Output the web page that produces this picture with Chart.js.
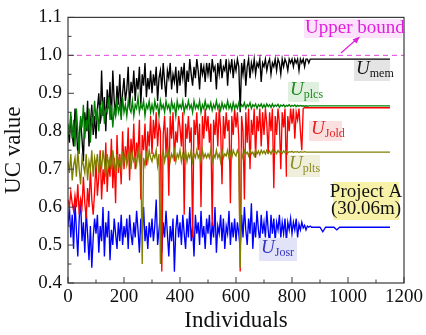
<!DOCTYPE html>
<html><head><meta charset="utf-8">
<script src="https://cdn.jsdelivr.net/npm/chart.js@4/dist/chart.umd.min.js"></script>
<style>html,body{margin:0;padding:0;background:#fff;}canvas{display:block;}</style>
</head><body>
<canvas id="c" width="426" height="335"></canvas>
<script>
// Individuals (x): every 5th individual up to 880, then the converged tail
const tailIndividuals = [900,910,920,950,960,970,1050,1150];
const individuals = Array.from({length:177},(_,i)=>i*5).concat(tailIndividuals);

const uMem = [
 0.80,0.77,0.84,0.79,0.76,0.86,0.81,0.74,0.79,0.83,0.78,0.72,0.85,0.80,0.88,0.76,0.82,0.87,0.79,0.84,
 0.78,0.86,0.90,0.82,0.96,0.84,0.89,0.80,0.91,0.86,0.93,0.83,0.96,0.88,0.84,0.92,0.87,0.95,0.85,0.90,
 0.94,0.88,0.91,0.97,0.86,0.93,0.90,0.96,0.88,0.94,0.91,0.97,0.87,0.95,0.92,0.98,0.89,0.94,0.91,0.96,
 0.90,0.95,0.92,0.97,0.88,0.94,0.96,0.91,0.98,0.93,0.89,0.96,0.94,0.98,0.91,0.95,0.93,0.97,0.90,0.96,
 0.92,0.97,0.94,0.98,0.89,0.96,0.93,0.99,0.95,0.92,0.97,0.94,0.99,0.96,0.91,0.98,0.95,0.97,0.93,0.98,
 0.95,0.98,0.93,0.99,0.96,0.97,0.91,0.98,0.95,0.99,0.94,0.97,0.96,0.99,0.92,0.98,0.96,0.99,0.94,0.98,
 0.96,0.99,0.97,0.85,0.98,0.95,0.99,0.92,0.97,0.99,0.94,0.98,0.96,0.99,0.95,0.98,0.97,0.99,0.93,0.98,
 0.97,0.99,0.96,0.98,0.99,0.95,0.98,0.97,0.99,0.96,0.99,0.98,0.95,0.99,0.97,0.99,0.98,0.96,0.99,0.98,
 0.99,0.97,0.99,0.98,0.99,0.96,0.99,0.98,0.99,0.97,0.99,0.99,0.98,0.99,0.99,0.99,
 0.99,
 0.99,0.99,0.99,0.99,0.99,0.99,0.99,0.99];

const uPlcs = [
 0.82,0.79,0.85,0.78,0.83,0.76,0.86,0.80,0.74,0.84,0.81,0.87,0.78,0.83,0.80,0.86,0.77,0.84,0.82,0.88,
 0.83,0.86,0.80,0.87,0.84,0.88,0.82,0.86,0.85,0.89,0.83,0.87,0.81,0.86,0.84,0.88,0.85,0.87,0.83,0.89,
 0.85,0.87,0.84,0.88,0.86,0.85,0.88,0.84,0.87,0.86,0.89,0.85,0.87,0.86,0.88,0.84,0.87,0.86,0.88,0.85,
 0.87,0.85,0.88,0.86,0.87,0.84,0.88,0.86,0.87,0.85,0.88,0.86,0.87,0.85,0.88,0.86,0.87,0.84,0.88,0.86,
 0.87,0.86,0.88,0.85,0.87,0.86,0.88,0.86,0.87,0.85,0.88,0.86,0.87,0.86,0.88,0.85,0.87,0.86,0.88,0.86,
 0.87,0.86,0.875,0.855,0.87,0.86,0.88,0.86,0.87,0.855,0.875,0.86,0.87,0.86,0.88,0.86,0.87,0.855,0.875,0.86,
 0.87,0.86,0.875,0.86,0.87,0.865,0.875,0.86,0.87,0.865,0.875,0.86,0.87,0.865,0.872,0.86,0.87,0.865,0.872,0.862,
 0.87,0.862,0.872,0.865,0.87,0.863,0.872,0.864,0.869,0.866,0.871,0.863,0.869,0.866,0.87,0.864,0.868,0.866,0.87,0.865,
 0.868,0.866,0.869,0.865,0.868,0.866,0.868,0.866,0.867,0.866,0.867,0.866,0.867,0.867,0.867,0.867,
 0.867,
 0.867,0.867,0.867,0.867,0.867,0.867,0.867,0.867];

const uJold = [
 0.62,0.60,0.64,0.61,0.59,0.63,0.60,0.66,0.58,0.62,0.60,0.68,0.61,0.57,0.65,0.60,0.70,0.62,0.58,0.64,
 0.72,0.63,0.68,0.75,0.62,0.70,0.66,0.77,0.64,0.72,0.68,0.78,0.65,0.73,0.61,0.79,0.69,0.74,0.66,0.80,
 0.70,0.76,0.72,0.81,0.67,0.78,0.73,0.82,0.70,0.77,0.74,0.83,0.62,0.79,0.75,0.82,0.71,0.80,0.76,0.84,
 0.74,0.83,0.78,0.85,0.76,0.82,0.80,0.43,0.79,0.84,0.74,0.81,0.63,0.84,0.78,0.85,0.72,0.80,0.77,0.84,
 0.81,0.76,0.85,0.58,0.82,0.78,0.84,0.77,0.81,0.52,0.83,0.79,0.85,0.75,0.82,0.60,0.84,0.78,0.86,0.80,
 0.84,0.77,0.82,0.55,0.83,0.79,0.85,0.76,0.86,0.81,0.66,0.84,0.78,0.85,0.80,0.83,0.61,0.84,0.79,0.86,
 0.81,0.85,0.78,0.43,0.84,0.80,0.62,0.85,0.77,0.86,0.70,0.83,0.79,0.86,0.73,0.84,0.80,0.86,0.76,0.85,
 0.79,0.86,0.82,0.74,0.85,0.80,0.86,0.65,0.84,0.79,0.86,0.82,0.70,0.85,0.81,0.86,0.68,0.84,0.80,0.86,
 0.82,0.86,0.78,0.85,0.83,0.86,0.80,0.75,0.86,0.862,0.862,0.862,0.862,0.862,0.862,0.862,
 0.862,
 0.862,0.862,0.862,0.862,0.862,0.862,0.862,0.862];

const uPlts = [
 0.72,0.69,0.74,0.67,0.71,0.73,0.68,0.75,0.70,0.66,0.73,0.71,0.69,0.74,0.67,0.72,0.70,0.75,0.68,0.73,
 0.71,0.74,0.69,0.73,0.70,0.75,0.72,0.68,0.74,0.71,0.73,0.70,0.75,0.72,0.69,0.74,0.71,0.73,0.70,0.74,
 0.72,0.74,0.71,0.73,0.75,0.70,0.74,0.72,0.73,0.71,0.75,0.72,0.74,0.45,0.73,0.71,0.74,0.72,0.75,0.73,
 0.72,0.74,0.73,0.75,0.71,0.74,0.45,0.73,0.75,0.72,0.74,0.73,0.75,0.72,0.74,0.73,0.75,0.72,0.74,0.73,
 0.75,0.72,0.74,0.73,0.75,0.72,0.74,0.73,0.75,0.72,0.74,0.73,0.75,0.73,0.74,0.72,0.75,0.73,0.74,0.73,
 0.74,0.73,0.75,0.72,0.74,0.73,0.75,0.73,0.74,0.72,0.75,0.73,0.74,0.735,0.75,0.73,0.745,0.73,0.75,0.74,
 0.735,0.75,0.74,0.44,0.745,0.73,0.75,0.74,0.745,0.735,0.75,0.74,0.745,0.735,0.75,0.74,0.748,0.738,0.75,0.742,
 0.748,0.74,0.75,0.742,0.748,0.74,0.75,0.743,0.748,0.741,0.749,0.744,0.747,0.742,0.748,0.744,0.747,0.743,0.746,0.745,
 0.747,0.744,0.746,0.745,0.746,0.744,0.746,0.745,0.745,0.746,0.745,0.745,0.745,0.745,0.745,0.745,
 0.745,
 0.745,0.745,0.745,0.745,0.745,0.745,0.745,0.745];

const uJosr = [
 0.55,0.60,0.52,0.58,0.49,0.61,0.54,0.47,0.57,0.62,0.51,0.56,0.48,0.59,0.53,0.46,0.55,0.44,0.52,0.57,
 0.53,0.58,0.48,0.55,0.51,0.60,0.47,0.56,0.52,0.59,0.46,0.54,0.50,0.57,0.53,0.49,0.56,0.51,0.58,0.50,
 0.55,0.52,0.57,0.49,0.58,0.53,0.50,0.56,0.52,0.59,0.54,0.48,0.57,0.53,0.60,0.51,0.55,0.49,0.56,0.52,
 0.57,0.51,0.55,0.62,0.50,0.54,0.58,0.48,0.56,0.52,0.59,0.53,0.47,0.55,0.51,0.57,0.43,0.54,0.58,0.52,
 0.56,0.50,0.58,0.53,0.49,0.57,0.52,0.60,0.51,0.55,0.47,0.58,0.53,0.56,0.50,0.59,0.52,0.55,0.49,0.57,
 0.53,0.58,0.50,0.56,0.52,0.60,0.48,0.55,0.53,0.58,0.51,0.57,0.49,0.55,0.53,0.59,0.50,0.56,0.52,0.57,
 0.51,0.56,0.53,0.49,0.58,0.52,0.60,0.54,0.50,0.57,0.53,0.61,0.49,0.56,0.52,0.59,0.54,0.51,0.58,0.53,
 0.56,0.52,0.59,0.54,0.50,0.58,0.53,0.57,0.51,0.56,0.54,0.58,0.52,0.56,0.53,0.57,0.51,0.56,0.54,0.57,
 0.53,0.56,0.54,0.57,0.52,0.555,0.54,0.56,0.545,0.552,0.54,0.55,0.547,0.55,0.547,0.547,
 0.547,
 0.547,0.535,0.547,0.547,0.54,0.547,0.547,0.547];

const upperBound = 1.0;
const xTicks = [0,200,400,600,800,1000,1200];
const yTicks = [0.4,0.5,0.6,0.7,0.8,0.9,1.0,1.1];

const pts = arr => individuals.map((x,i)=>({x:x,y:arr[i]}));
const FONT = "'Liberation Serif','Times New Roman',serif";

const series = (data,color,order)=>({data:pts(data),borderColor:color,borderWidth:1.35,pointRadius:0,tension:0,order:order,fill:false});

const overlay = {
  id:'overlay',
  afterDraw(chart){
    const ctx = chart.ctx, a = chart.chartArea;
    const xs = chart.scales.x, ys = chart.scales.y;
    ctx.save();
    ctx.strokeStyle = '#3a3a3a'; ctx.lineWidth = 1.2;
    ctx.strokeRect(a.left, a.top, a.right-a.left, a.bottom-a.top);
    ctx.lineWidth = 1;
    for (let v=0; v<=1200; v+=100){
      const p = xs.getPixelForValue(v);
      const L = (v%200===0)?6:3.5;
      ctx.beginPath(); ctx.moveTo(p,a.bottom); ctx.lineTo(p,a.bottom-L); ctx.stroke();
    }
    for (let k=0; k<=14; k++){
      const v = 0.4 + k*0.05;
      const p = ys.getPixelForValue(v);
      const L = (k%2===0)?6:3.5;
      ctx.beginPath(); ctx.moveTo(a.left,p); ctx.lineTo(a.left+L,p); ctx.stroke();
    }
    function label(x,y,w,h,bg,color,sub,base){
      ctx.fillStyle = bg; ctx.fillRect(x,y,w,h);
      ctx.fillStyle = color;
      ctx.font = "italic 19px " + FONT;
      ctx.textBaseline = 'alphabetic'; ctx.textAlign = 'left';
      ctx.fillText('U', x+2, base);
      const wu = ctx.measureText('U').width;
      ctx.font = "12px " + FONT;
      ctx.fillText(sub, x+2+wu, base+3);
    }
    label(354,60,36,21,'#e4e4e4','#111111','mem',74);
    label(288,82,31,20,'#dff0df','#1f8a1f','plcs',95);
    label(309,121,33,20,'#fbe0e0','#e52222','Jold',134);
    label(287,155,33,22,'#efefdc','#8c8c28','plts',169);
    label(259,238,38,23,'#e2e2f8','#3535c0','Josr',253);
    ctx.fillStyle = '#fbe4fb'; ctx.fillRect(304,19,98,19);
    ctx.fillStyle = '#e020e0'; ctx.font = "19px " + FONT;
    ctx.textAlign='left'; ctx.fillText('Upper bound', 305, 33);
    ctx.strokeStyle = '#e020e0'; ctx.lineWidth = 1.2;
    ctx.beginPath(); ctx.moveTo(341,53); ctx.lineTo(358,38); ctx.stroke();
    ctx.beginPath(); ctx.moveTo(360,36.5); ctx.lineTo(352.5,39.5); ctx.lineTo(356.5,43.5); ctx.closePath();
    ctx.fillStyle = '#e020e0'; ctx.fill();
    ctx.fillStyle = '#f8f2a8'; ctx.fillRect(333,182,66,38);
    ctx.fillStyle = '#111'; ctx.font = "19px " + FONT; ctx.textAlign='center';
    ctx.fillText('Project A', 366, 197);
    ctx.fillText('(30.06m)', 366, 214);
    ctx.restore();
  }
};

new Chart(document.getElementById('c'), {
  type:'line',
  data:{datasets:[
    {data:[{x:0,y:upperBound},{x:1200,y:upperBound}],borderColor:'#e040e0',borderWidth:1,borderDash:[5,4],pointRadius:0,order:6},
    series(uJosr,'#0000ff',5),
    series(uMem,'#000000',4),
    series(uJold,'#ff0000',3),
    series(uPlcs,'#008000',2),
    series(uPlts,'#808000',1)
  ]},
  options:{
    responsive:false, devicePixelRatio:1, animation:false,
    layout:{padding:{top:15,right:22,left:0,bottom:0}},
    plugins:{legend:{display:false},tooltip:{enabled:false}},
    scales:{
      x:{type:'linear',min:0,max:1200,
        afterBuildTicks:s=>{s.ticks = xTicks.map(v=>({value:v}));},
        afterFit:s=>{s.height=52;},
        grid:{display:false,drawTicks:false},border:{display:false},
        ticks:{color:'#111',padding:3,maxRotation:0,font:{family:FONT,size:19},callback:v=>String(v)},
        title:{display:true,text:'Individuals',color:'#111',font:{family:FONT,size:23},padding:{top:0,bottom:0}}
      },
      y:{type:'linear',min:0.4,max:1.1,
        afterBuildTicks:s=>{s.ticks = yTicks.map(v=>({value:v}));},
        afterFit:s=>{s.width=68;},
        grid:{display:false,drawTicks:false},border:{display:false},
        ticks:{color:'#111',padding:6,font:{family:FONT,size:19},callback:v=>Number(v).toFixed(1)},
        title:{display:true,text:'UC value',color:'#111',font:{family:FONT,size:23},padding:{top:0,bottom:4}}
      }
    }
  },
  plugins:[overlay]
});
</script>
</body></html>
